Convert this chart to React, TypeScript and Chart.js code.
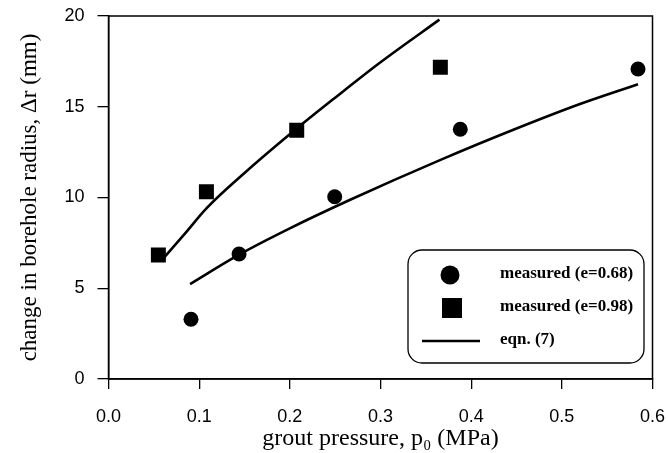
import React, { useEffect, useRef } from "react";
import { Chart, registerables } from "chart.js";

Chart.register(...registerables);

// measured data, e = 0.68 (circles)
const circleX = [0.091, 0.144, 0.2495, 0.388, 0.584];
const circleY = [3.29, 6.89, 10.04, 13.76, 17.08];

// measured data, e = 0.98 (squares)
const squareX = [0.055, 0.108, 0.2076, 0.366];
const squareY = [6.83, 10.32, 13.7, 17.17];

// eqn. (7) curve for e = 0.68
const eqnLowX = [0.09, 0.144, 0.2, 0.266, 0.3675, 0.45, 0.52, 0.584];
const eqnLowY = [5.23, 6.85, 8.3, 9.86, 12.1, 13.8, 15.15, 16.24];

// eqn. (7) curve for e = 0.98
const eqnHighX = [0.0605, 0.085, 0.108, 0.15, 0.2076, 0.25, 0.3, 0.365];
const eqnHighY = [6.65, 8.05, 9.4, 11.35, 13.8, 15.5, 17.45, 19.8];

const xTicks = [0, 0.1, 0.2, 0.3, 0.4, 0.5, 0.6];
const yTicks = [0, 5, 10, 15, 20];

const labels = ["measured (e=0.68)", "measured (e=0.98)", "eqn. (7)"];

const SANS = "'Liberation Sans', Arial, sans-serif";
const SERIF = "'Liberation Serif', 'Times New Roman', serif";

const pts = (xs: number[], ys: number[]) => xs.map((x, i) => ({ x, y: ys[i] }));

const framePlugin = {
  id: "frameAndLegend",
  afterDraw(chart: any) {
    const { ctx, chartArea } = chart;
    const { left, right, top, bottom } = chartArea;
    ctx.save();
    // full box around plot
    ctx.strokeStyle = "#000";
    ctx.lineWidth = 1.5;
    ctx.strokeRect(left, top, right - left, bottom - top);

    // legend box
    const bx1 = right - 8.5;
    const by2 = bottom - 16;
    const bx0 = bx1 - 236;
    const by0 = by2 - 113;
    const r = 14;
    ctx.lineWidth = 1.3;
    ctx.beginPath();
    ctx.moveTo(bx0 + r, by0);
    ctx.lineTo(bx1 - r, by0);
    ctx.arcTo(bx1, by0, bx1, by0 + r, r);
    ctx.lineTo(bx1, by2 - r);
    ctx.arcTo(bx1, by2, bx1 - r, by2, r);
    ctx.lineTo(bx0 + r, by2);
    ctx.arcTo(bx0, by2, bx0, by2 - r, r);
    ctx.lineTo(bx0, by0 + r);
    ctx.arcTo(bx0, by0, bx0 + r, by0, r);
    ctx.closePath();
    ctx.stroke();

    const ds = chart.data.datasets;
    const symX = bx0 + 42;
    const textX = bx0 + 92;
    const rows = [by0 + 24, by0 + 57, by0 + 90];
    ctx.fillStyle = "#000";
    // circle
    ctx.beginPath();
    ctx.arc(symX, rows[0] + 1, 9.5, 0, Math.PI * 2);
    ctx.fill();
    // square
    ctx.fillRect(symX - 8, rows[1] - 9, 20, 20);
    // line
    ctx.lineWidth = 2.5;
    ctx.beginPath();
    ctx.moveTo(bx0 + 14, rows[2] + 1);
    ctx.lineTo(bx0 + 72, rows[2] + 1);
    ctx.stroke();

    ctx.font = "bold 17px " + SERIF;
    ctx.textBaseline = "middle";
    ctx.textAlign = "left";
    ctx.fillText(ds[0].label, textX, rows[0]);
    ctx.fillText(ds[1].label, textX, rows[1]);
    ctx.fillText(ds[2].label, textX, rows[2]);
    ctx.restore();
  },
};

export default function App() {
  const ref = useRef<HTMLCanvasElement | null>(null);

  useEffect(() => {
    if (!ref.current) return;
    const chart = new Chart(ref.current, {
      type: "scatter",
      data: {
        datasets: [
          {
            label: labels[0],
            data: pts(circleX, circleY),
            pointStyle: "circle",
            pointRadius: 7.5,
            backgroundColor: "#000",
            borderColor: "#000",
            borderWidth: 0,
            showLine: false,
          },
          {
            label: labels[1],
            data: pts(squareX, squareY),
            pointStyle: "rect",
            pointRadius: 10.6,
            backgroundColor: "#000",
            borderColor: "#000",
            borderWidth: 0,
            showLine: false,
          },
          {
            label: labels[2],
            data: pts(eqnLowX, eqnLowY),
            showLine: true,
            pointRadius: 0,
            borderColor: "#000",
            borderWidth: 2.6,
            cubicInterpolationMode: "monotone",
          },
          {
            label: labels[2],
            data: pts(eqnHighX, eqnHighY),
            showLine: true,
            pointRadius: 0,
            borderColor: "#000",
            borderWidth: 2.6,
            cubicInterpolationMode: "monotone",
          },
        ],
      } as any,
      options: {
        animation: false,
        responsive: true,
        maintainAspectRatio: false,
        layout: { padding: { left: 0, right: 15.5, top: 16, bottom: 0 } },
        plugins: {
          legend: { display: false },
          tooltip: { enabled: false },
        },
        scales: {
          x: {
            type: "linear",
            min: xTicks[0],
            max: xTicks[xTicks.length - 1],
            afterBuildTicks: (s: any) => {
              s.ticks = xTicks.map((v) => ({ value: v }));
            },
            afterFit: (s: any) => {
              s.height = 74;
              s.paddingLeft = 0;
              s.paddingRight = 0;
            },
            ticks: {
              color: "#000",
              font: { family: SANS, size: 18 },
              padding: 17,
              callback: (v: any) => Number(v).toFixed(1),
            },
            grid: {
              drawOnChartArea: false,
              tickLength: 10,
              color: "#000",
              lineWidth: 1.3,
            },
            border: { display: true, color: "#000", width: 1.5 },
            title: {
              display: true,
              text: "grout pressure, p₀ (MPa)",
              color: "#000",
              font: { family: SERIF, size: 24 },
              padding: { top: 0, bottom: 0 },
            },
          },
          y: {
            type: "linear",
            min: yTicks[0],
            max: yTicks[yTicks.length - 1],
            afterBuildTicks: (s: any) => {
              s.ticks = yTicks.map((v) => ({ value: v }));
            },
            afterFit: (s: any) => {
              s.width = 108.5;
              s.paddingTop = 0;
              s.paddingBottom = 0;
            },
            ticks: {
              color: "#000",
              font: { family: SANS, size: 18 },
              padding: 13,
            },
            grid: {
              drawOnChartArea: false,
              tickLength: 11,
              color: "#000",
              lineWidth: 1.3,
            },
            border: { display: true, color: "#000", width: 1.5 },
            title: {
              display: true,
              text: "change in borehole radius, Δr (mm)",
              color: "#000",
              font: { family: SERIF, size: 23 },
              padding: { top: 16, bottom: 0 },
            },
          },
        },
      } as any,
      plugins: [framePlugin],
    });
    return () => chart.destroy();
  }, []);

  return (
    <div style={{ position: "fixed", left: 0, top: 0, width: 668, height: 453, background: "#fff" }}>
      <canvas ref={ref} />
    </div>
  );
}
